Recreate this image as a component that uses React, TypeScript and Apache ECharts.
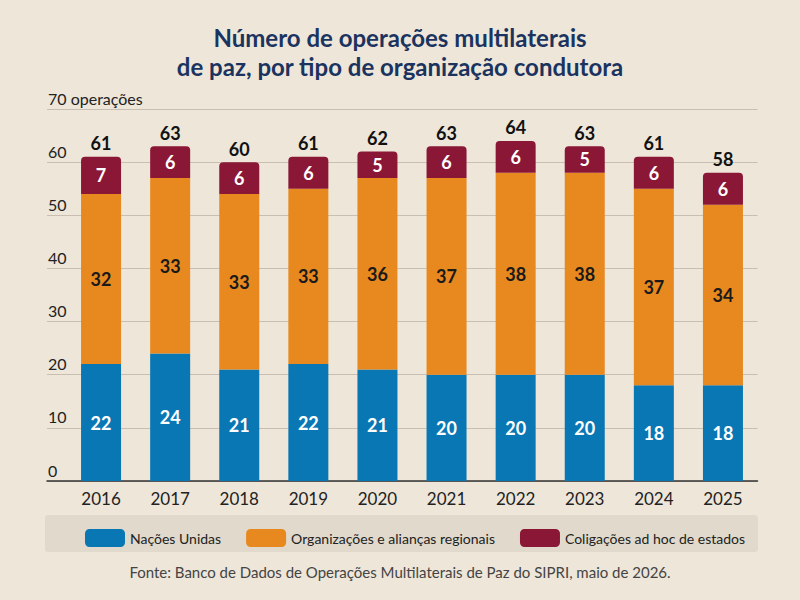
import React, { useEffect, useRef } from 'react';
import * as echarts from 'echarts';

const years = ['2016', '2017', '2018', '2019', '2020', '2021', '2022', '2023', '2024', '2025'];
const nacoesUnidas = [22, 24, 21, 22, 21, 20, 20, 20, 18, 18];
const organizacoes = [32, 33, 33, 33, 36, 37, 38, 38, 37, 34];
const coligacoes = [7, 6, 6, 6, 5, 6, 6, 5, 6, 6];
const totals = years.map((_, i) => nacoesUnidas[i] + organizacoes[i] + coligacoes[i]);

const BLUE = '#0a77b5';
const ORANGE = '#e8891f';
const MAROON = '#8b1737';
const FONT = 'Lato, "Noto Sans", sans-serif';

const App: React.FC = () => {
  const chartRef = useRef<HTMLDivElement>(null);

  useEffect(() => {
    if (!chartRef.current) return;
    const chart = echarts.init(chartRef.current, null, { renderer: 'svg' });

    const segLabel = (color: string) => ({
      show: true,
      position: 'inside' as const,
      color,
      fontFamily: FONT,
      fontWeight: 'bold' as const,
      fontSize: 18,
    });

    const option: echarts.EChartsOption = {
      animation: false,
      backgroundColor: '#ede6d9',
      textStyle: { fontFamily: FONT },
      graphic: [
        {
          type: 'text',
          x: 400,
          y: 23,
          style: {
            text: 'Número de operações multilaterais\nde paz, por tipo de organização condutora',
            textAlign: 'center',
            fontFamily: FONT,
            fontSize: 24,
            fontWeight: 'bold',
            lineHeight: 29,
            fill: '#1b335f',
          },
        },
        {
          type: 'rect',
          left: 45,
          top: 515,
          shape: { width: 713, height: 37, r: 3 },
          style: { fill: 'rgba(120,110,95,0.10)' },
          z: -1,
        },
        {
          type: 'text',
          left: 'center',
          top: 564,
          style: {
            text: 'Fonte: Banco de Dados de Operações Multilaterais de Paz do SIPRI, maio de 2026.',
            fontFamily: FONT,
            fontSize: 15,
            fill: '#444',
          },
        },
      ],
      legend: {
        left: 80,
        top: 524,
        itemWidth: 40,
        itemHeight: 18,
        itemGap: 25,
        icon: 'roundRect',
        textStyle: { fontFamily: FONT, fontSize: 14, color: '#222' },
        data: ['Nações Unidas', 'Organizações e alianças regionais', 'Coligações ad hoc de estados'],
      },
      grid: [
        { left: 66.5, right: 42.5, top: 109, bottom: 119 },
        { left: 47, right: 42.5, top: 109, bottom: 119 },
      ],
      xAxis: [
        {
          type: 'category',
          gridIndex: 0,
          data: years,
          axisLine: { show: false },
          axisTick: { show: false },
          axisLabel: { color: '#222', fontSize: 17, margin: 9, fontFamily: FONT },
        },
        {
          type: 'value',
          gridIndex: 1,
          min: 0,
          max: 1,
          axisLine: { show: true, onZero: false, lineStyle: { color: '#333', width: 1.5 } },
          axisTick: { show: false },
          axisLabel: { show: false },
          splitLine: { show: false },
        },
      ],
      yAxis: [
        {
          type: 'value',
          gridIndex: 0,
          min: 0,
          max: 70,
          interval: 10,
          axisLine: { show: false },
          axisTick: { show: false },
          axisLabel: { show: false },
          splitLine: { show: false },
        },
        {
          type: 'value',
          gridIndex: 1,
          min: 0,
          max: 70,
          interval: 10,
          axisLine: { show: false },
          axisTick: { show: false },
          axisLabel: {
            inside: true,
            margin: 1,
            color: '#222',
            fontSize: 16,
            fontFamily: FONT,
            verticalAlign: 'bottom',
            padding: [0, 0, 3, 0],
            formatter: (v: number) => (v === 70 ? '70 operações' : String(v)),
          },
          splitLine: { lineStyle: { color: '#c8bfb2', width: 1 } },
        },
      ],
      series: [
        {
          name: 'Nações Unidas',
          type: 'bar',
          stack: 'total',
          barWidth: 40,
          data: nacoesUnidas,
          itemStyle: { color: BLUE },
          label: segLabel('#fff'),
          z: 3,
        },
        {
          name: 'Organizações e alianças regionais',
          type: 'bar',
          stack: 'total',
          barWidth: 40,
          data: organizacoes,
          itemStyle: { color: ORANGE },
          label: segLabel('#1a1a1a'),
          z: 3,
        },
        {
          name: 'Coligações ad hoc de estados',
          type: 'bar',
          stack: 'total',
          barWidth: 40,
          data: coligacoes,
          itemStyle: { color: MAROON, borderRadius: [4, 4, 0, 0] },
          label: segLabel('#fff'),
          z: 3,
        },
        {
          name: 'total',
          type: 'scatter',
          data: totals,
          symbolSize: 1,
          itemStyle: { color: 'rgba(0,0,0,0)', opacity: 1 },
          label: {
            show: true,
            position: 'top',
            distance: 4,
            color: '#111',
            fontFamily: FONT,
            fontWeight: 'bold',
            fontSize: 18,
            formatter: (p: any) => String(p.value),
          },
          z: 4,
        },
      ],
    };

    chart.setOption(option);
    return () => chart.dispose();
  }, []);

  return (
    <div
      ref={chartRef}
      style={{ position: 'fixed', left: 0, top: 0, width: 800, height: 600 }}
    />
  );
};

export default App;
